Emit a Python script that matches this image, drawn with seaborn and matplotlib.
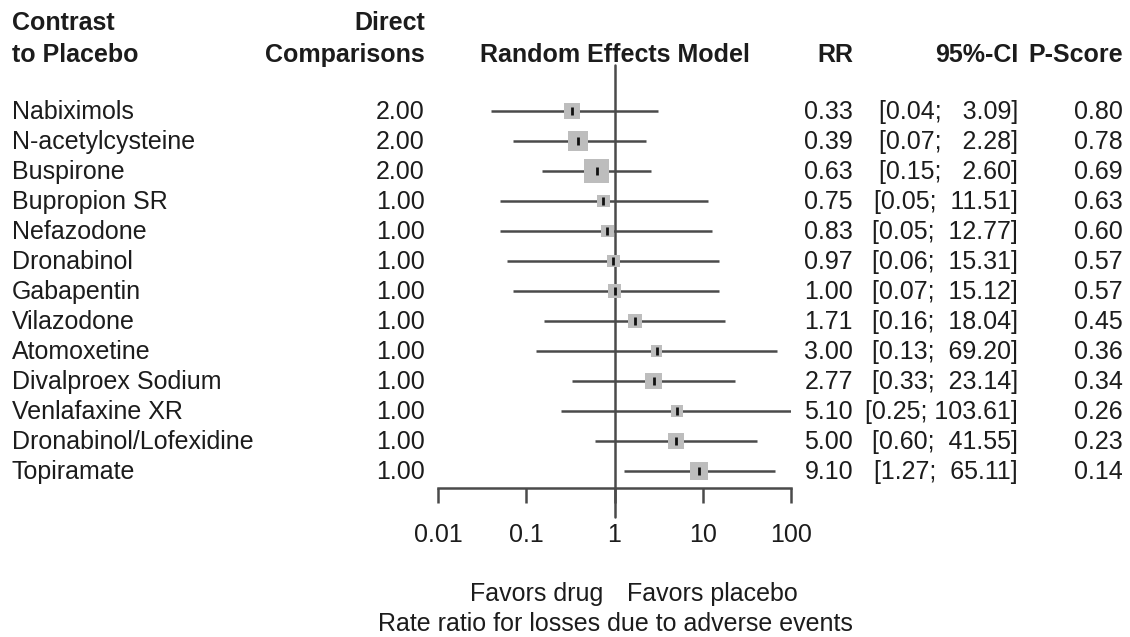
import numpy as np
import pandas as pd
import matplotlib
matplotlib.use("Agg")
import matplotlib.pyplot as plt
import matplotlib.transforms as mtrans
import seaborn as sns
from matplotlib.ticker import FixedLocator, FixedFormatter, NullLocator

# ---- data -----------------------------------------------------------------
treatments = [
    "Nabiximols", "N-acetylcysteine", "Buspirone", "Bupropion SR", "Nefazodone",
    "Dronabinol", "Gabapentin", "Vilazodone", "Atomoxetine", "Divalproex Sodium",
    "Venlafaxine XR", "Dronabinol/Lofexidine", "Topiramate",
]
direct_comparisons = [2.00, 2.00, 2.00, 1.00, 1.00, 1.00, 1.00, 1.00, 1.00, 1.00, 1.00, 1.00, 1.00]
rr = [0.33, 0.39, 0.63, 0.75, 0.83, 0.97, 1.00, 1.71, 3.00, 2.77, 5.10, 5.00, 9.10]
ci_lower = [0.04, 0.07, 0.15, 0.05, 0.05, 0.06, 0.07, 0.16, 0.13, 0.33, 0.25, 0.60, 1.27]
ci_upper = [3.09, 2.28, 2.60, 11.51, 12.77, 15.31, 15.12, 18.04, 69.20, 23.14, 103.61, 41.55, 65.11]
p_score = [0.80, 0.78, 0.69, 0.63, 0.60, 0.57, 0.57, 0.45, 0.36, 0.34, 0.26, 0.23, 0.14]
tick_values = [0.01, 0.1, 1, 10, 100]
tick_labels = ["0.01", "0.1", "1", "10", "100"]

df = pd.DataFrame({
    "treatment": treatments, "direct": direct_comparisons, "rr": rr,
    "lower": ci_lower, "upper": ci_upper, "pscore": p_score,
})
df["row"] = np.arange(len(df))
# box side proportional to the precision of the log rate ratio
se = (np.log(df["upper"]) - np.log(df["lower"])) / (2 * 1.959964)
W, H, DPI = 1130, 637, 100
side_px = 17.9 / se
df["box_area"] = (side_px * 72 / DPI) ** 2

# ---- layout helpers ---------------------------------------------------------
ROW0, STEP = 111, 30          # pixel centre of first row, row spacing


def ry(px):
    """pixel y -> row coordinate"""
    return (px - ROW0) / STEP


def fx(px):
    return px / W


sns.set_theme(style="white")
plt.rcParams["font.family"] = ["Liberation Sans", "DejaVu Sans"]
FS = 18
TXT = "#1c1c1c"
LINE = "#4a4a4a"

fig = plt.figure(figsize=(W / DPI, H / DPI), dpi=DPI)
ax = fig.add_axes([fx(438), 0, fx(791) - fx(438), 1])
ax.set_xscale("log")
ax.set_xlim(tick_values[0], tick_values[-1])
ax.set_ylim(ry(H), ry(0))

# confidence intervals
ax.hlines(df["row"], df["lower"], df["upper"], color=LINE, lw=1.8, zorder=2)
# weighted boxes
sns.scatterplot(data=df, x="rr", y="row", marker="s", s=df["box_area"],
                color="#bdbdbd", edgecolor="none", linewidth=0, ax=ax, zorder=3,
                legend=False)
# point estimates
sns.scatterplot(data=df, x="rr", y="row", marker="|", s=40, color="#111111",
                linewidth=2.0, ax=ax, zorder=4, legend=False)
# line of no effect
ax.plot([1, 1], [ry(65), ry(517)], color=LINE, lw=1.8, clip_on=False, zorder=1)

# x axis drawn through the spine
for s in ["top", "right", "left"]:
    ax.spines[s].set_visible(False)
ax.spines["bottom"].set_position(("data", ry(488)))
ax.spines["bottom"].set_color(LINE)
ax.spines["bottom"].set_linewidth(1.8)
ax.xaxis.set_major_locator(FixedLocator(tick_values))
ax.xaxis.set_major_formatter(FixedFormatter(tick_labels))
ax.xaxis.set_minor_locator(NullLocator())
ax.tick_params(axis="x", direction="out", length=11, width=1.8, color=LINE,
               labelsize=FS, labelcolor=TXT, pad=14, bottom=True)
ax.set_yticks([])
ax.set_xlabel("")
ax.set_ylabel("")
ax.patch.set_alpha(0)

blend = mtrans.blended_transform_factory(fig.transFigure, ax.transData)


def put(xpx, y, s, ha="left", bold=False):
    ax.text(fx(xpx), y, s, transform=blend, ha=ha, va="baseline", fontsize=FS,
            color=TXT, fontweight="bold" if bold else "normal", clip_on=False)


# column headers
h1, h2 = ry(30), ry(62)
put(12, h1, "Contrast", bold=True)
put(12, h2, "to Placebo", bold=True)
put(425, h1, "Direct", ha="right", bold=True)
put(425, h2, "Comparisons", ha="right", bold=True)
put(615, h2, "Random Effects Model", ha="center", bold=True)
put(853, h2, "RR", ha="right", bold=True)
put(1018, h2, "95%-CI", ha="right", bold=True)
put(1123, h2, "P-Score", ha="right", bold=True)

# table rows
off = 8 / STEP
for r in df.itertuples():
    y = r.row + off
    put(12, y, r.treatment)
    put(425, y, f"{r.direct:.2f}", ha="right")
    put(853, y, f"{r.rr:.2f}", ha="right")
    put(1018, y, f"[{r.lower:.2f}; {r.upper:>6.2f}]", ha="right")
    put(1123, y, f"{r.pscore:.2f}", ha="right")

# bottom annotations
put(603, ry(601), "Favors drug", ha="right")
put(627, ry(601), "Favors placebo", ha="left")
put(615, ry(631), "Rate ratio for losses due to adverse events", ha="center")

fig.savefig("out.png", dpi=DPI, facecolor="white")
